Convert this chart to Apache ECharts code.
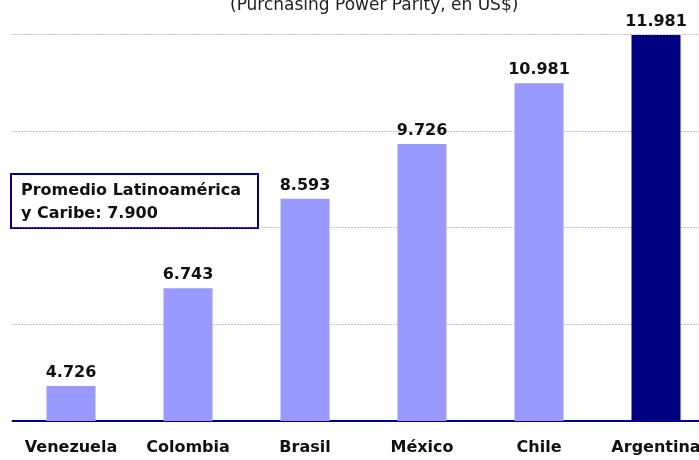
<!DOCTYPE html>
<html>
<head>
<meta charset="utf-8">
<script src="https://cdn.jsdelivr.net/npm/echarts@6/dist/echarts.min.js"></script>
<style>
  html, body { margin: 0; padding: 0; background: #fff; }
  #chart { width: 699px; height: 460px; }
</style>
</head>
<body>
<div id="chart"></div>
<script>
const countries = ['Venezuela', 'Colombia', 'Brasil', 'México', 'Chile', 'Argentina'];
const gdpPpp = [4726, 6743, 8593, 9726, 10981, 11981];
const highlight = 'Argentina';
const avgValue = 7900;
const subtitle = '(Purchasing Power Parity, en US$)';

const FONT = 'DejaVu Sans';

// 4726 -> "4.726"
const fmt = (v) => String(v).replace(/\B(?=(\d{3})+(?!\d))/g, '.');

const chart = echarts.init(document.getElementById('chart'), null, { renderer: 'canvas' });

chart.setOption({
  animation: false,
  grid: {
    left: 12.5,
    top: 34,
    right: -15.5,
    bottom: 39,
    containLabel: false,
    outerBoundsMode: 'none'
  },
  xAxis: {
    type: 'category',
    data: countries,
    axisTick: { show: false },
    axisLine: { lineStyle: { color: '#000080', width: 2 } },
    axisLabel: {
      margin: 19,
      color: '#111',
      fontFamily: FONT,
      fontWeight: 'bold',
      fontSize: 16,
      interval: 0
    }
  },
  yAxis: {
    type: 'value',
    min: 4000,
    max: 12000,
    interval: 2000,
    axisLabel: { show: false },
    axisLine: { show: false },
    axisTick: { show: false },
    splitLine: { lineStyle: { color: '#888', type: [1, 2], width: 1 } }
  },
  series: [{
    type: 'bar',
    barWidth: 49,
    data: gdpPpp.map((v, i) => ({
      value: v,
      itemStyle: { color: countries[i] === highlight ? '#000080' : '#9999ff' }
    })),
    label: {
      show: true,
      position: 'top',
      distance: 5,
      color: '#111',
      fontFamily: FONT,
      fontWeight: 'bold',
      fontSize: 16,
      formatter: (p) => fmt(p.value)
    }
  }],
  graphic: [
    {
      type: 'text',
      left: 375 - 145,
      top: -3,
      style: {
        text: subtitle,
        fill: '#222',
        font: '17px "DejaVu Sans"'
      }
    },
    {
      type: 'rect',
      shape: { x: 11, y: 174, width: 247, height: 54 },
      style: { fill: '#fff', stroke: '#000080', lineWidth: 2 }
    },
    {
      type: 'text',
      x: 21,
      y: 179,
      style: {
        text: 'Promedio Latinoamérica\ny Caribe: ' + fmt(avgValue),
        fill: '#111',
        font: 'bold 16px "DejaVu Sans"',
        lineHeight: 23
      }
    }
  ]
});
</script>
</body>
</html>
